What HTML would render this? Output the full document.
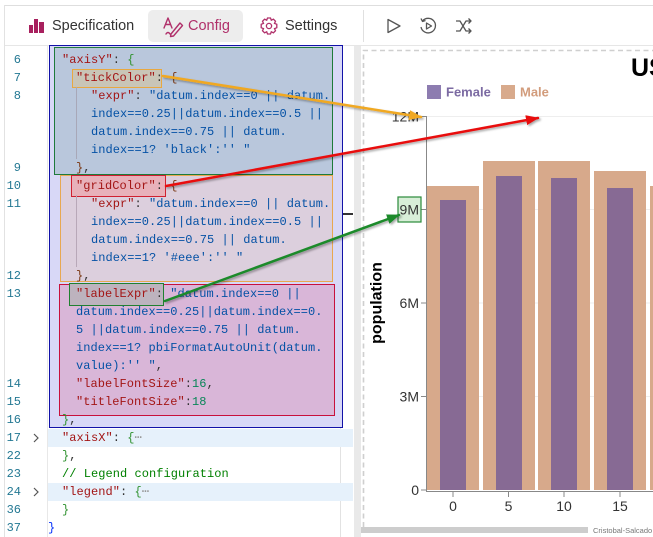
<!DOCTYPE html>
<html><head><meta charset="utf-8">
<style>
*{margin:0;padding:0;box-sizing:border-box}
html,body{width:653px;height:537px;overflow:hidden;background:#fff}
body{position:relative;font-family:"Liberation Sans",sans-serif}
.a{position:absolute}
.code{position:absolute;font-family:"Liberation Mono",monospace;font-size:12px;line-height:18px;height:18px;white-space:pre;letter-spacing:0.05px;color:#333}
.ln{position:absolute;left:0;width:21px;text-align:right;font-family:"Liberation Mono",monospace;font-size:12px;line-height:18px;height:18px;color:#237893}
.k{color:#a31515}.s{color:#0451a5}.b1{color:#0431fa}.b2{color:#319331}.b3{color:#7b3814}.n{color:#098658}.c{color:#008000}.e{color:#999}
.tab{position:absolute;top:17px;font-size:14.5px;line-height:18px;color:#333;white-space:nowrap}
</style></head><body>

<!-- frame lines -->
<div class="a" style="left:4px;top:5px;width:649px;height:1px;background:#dedede"></div>
<div class="a" style="left:4px;top:5px;width:1px;height:532px;background:#e2e2e2"></div>
<div class="a" style="left:5px;top:45px;width:648px;height:1px;background:#e6e6e6"></div>

<!-- toolbar -->
<div class="a" style="left:148px;top:10px;width:95px;height:32px;background:#ededed;border-radius:5px"></div>
<div class="tab" style="left:52px">Specification</div>
<div class="tab" style="left:188px;color:#b0306a">Config</div>
<div class="tab" style="left:285px">Settings</div>
<div class="a" style="left:363px;top:10px;width:1px;height:32px;background:#e0e0e0"></div>

<!-- editor chrome -->
<div class="a" style="left:47px;top:46px;width:1px;height:491px;background:#e8e8e8"></div>
<div class="a" style="left:340px;top:46px;width:1px;height:491px;background:#e2e2e2"></div>
<div class="a" style="left:354px;top:46px;width:7px;height:491px;background:#e9e9e9"></div>
<div class="a" style="left:342px;top:213px;width:11px;height:2px;background:#333"></div>

<!-- folded-line highlights -->
<div class="a" style="left:48px;top:429px;width:305px;height:18px;background:#e6f1fb"></div>
<div class="a" style="left:48px;top:483px;width:305px;height:18px;background:#e6f1fb"></div>

<!-- overlay boxes -->
<div class="a" style="left:49px;top:45px;width:294px;height:383px;background:#d8d8f7;border:1px solid #1212a8"></div>
<div class="a" style="left:54px;top:47px;width:279px;height:128px;background:#b9c7dc;border:1px solid #1f7a3c"></div>
<div class="a" style="left:60px;top:175px;width:273px;height:107px;background:#dccfdd;border:1px solid #e8a850"></div>
<div class="a" style="left:59px;top:284px;width:276px;height:132px;background:#d9b6d8;border:1px solid #c8103c"></div>
<div class="a" style="left:72px;top:69px;width:90px;height:19px;background:#c9c5b7;border:1.5px solid #e8a840"></div>
<div class="a" style="left:71px;top:175px;width:95px;height:22px;background:#e8b1ba;border:1.5px solid #d02030"></div>
<div class="a" style="left:69px;top:283px;width:95px;height:23px;background:#bdb3be;border:1.5px solid #208030"></div>

<!-- indent guides -->
<div class="a" style="left:76px;top:87px;width:1px;height:72px;background:#a8a8b8"></div>
<div class="a" style="left:76px;top:195px;width:1px;height:72px;background:#b8a8b8"></div>

<!-- line numbers -->
<div class="ln" style="top:51px">6</div>
<div class="ln" style="top:69px">7</div>
<div class="ln" style="top:87px">8</div>
<div class="ln" style="top:159px">9</div>
<div class="ln" style="top:177px">10</div>
<div class="ln" style="top:195px">11</div>
<div class="ln" style="top:267px">12</div>
<div class="ln" style="top:285px">13</div>
<div class="ln" style="top:375px">14</div>
<div class="ln" style="top:393px">15</div>
<div class="ln" style="top:411px">16</div>
<div class="ln" style="top:429px">17</div>
<div class="ln" style="top:447px">22</div>
<div class="ln" style="top:465px">23</div>
<div class="ln" style="top:483px">24</div>
<div class="ln" style="top:501px">36</div>
<div class="ln" style="top:519px">37</div>

<!-- code -->
<div class="code" style="left:62px;top:51px"><span class="k">"axisY"</span>: <span class="b2">{</span></div>
<div class="code" style="left:76px;top:69px"><span class="k">"tickColor"</span>: <span class="b3">{</span></div>
<div class="code" style="left:91px;top:87px"><span class="k">"expr"</span>: <span class="s">"datum.index==0 || datum.</span></div>
<div class="code" style="left:91px;top:105px"><span class="s">index==0.25||datum.index==0.5 ||</span></div>
<div class="code" style="left:91px;top:123px"><span class="s">datum.index==0.75 || datum.</span></div>
<div class="code" style="left:91px;top:141px"><span class="s">index==1? 'black':'' "</span></div>
<div class="code" style="left:76px;top:159px"><span class="b3">}</span>,</div>
<div class="code" style="left:76px;top:177px"><span class="k">"gridColor"</span>: <span class="b3">{</span></div>
<div class="code" style="left:91px;top:195px"><span class="k">"expr"</span>: <span class="s">"datum.index==0 || datum.</span></div>
<div class="code" style="left:91px;top:213px"><span class="s">index==0.25||datum.index==0.5 ||</span></div>
<div class="code" style="left:91px;top:231px"><span class="s">datum.index==0.75 || datum.</span></div>
<div class="code" style="left:91px;top:249px"><span class="s">index==1? '#eee':'' "</span></div>
<div class="code" style="left:76px;top:267px"><span class="b3">}</span>,</div>
<div class="code" style="left:76px;top:285px"><span class="k">"labelExpr"</span>: <span class="s">"datum.index==0 ||</span></div>
<div class="code" style="left:76px;top:303px"><span class="s">datum.index==0.25||datum.index==0.</span></div>
<div class="code" style="left:76px;top:321px"><span class="s">5 ||datum.index==0.75 || datum.</span></div>
<div class="code" style="left:76px;top:339px"><span class="s">index==1? pbiFormatAutoUnit(datum.</span></div>
<div class="code" style="left:76px;top:357px"><span class="s">value):'' "</span>,</div>
<div class="code" style="left:76px;top:375px"><span class="k">"labelFontSize"</span>:<span class="n">16</span>,</div>
<div class="code" style="left:76px;top:393px"><span class="k">"titleFontSize"</span>:<span class="n">18</span></div>
<div class="code" style="left:62px;top:411px"><span class="b2">}</span>,</div>
<div class="code" style="left:62px;top:429px"><span class="k">"axisX"</span>: <span class="b2">{</span><span class="e">⋯</span></div>
<div class="code" style="left:62px;top:447px"><span class="b2">}</span>,</div>
<div class="code" style="left:62px;top:465px"><span class="c">// Legend configuration</span></div>
<div class="code" style="left:62px;top:483px"><span class="k">"legend"</span>: <span class="b2">{</span><span class="e">⋯</span></div>
<div class="code" style="left:62px;top:501px"><span class="b2">}</span></div>
<div class="code" style="left:48px;top:519px"><span class="b1">}</span></div>

<svg class="a" style="left:0;top:0" width="653" height="537" viewBox="0 0 653 537" xmlns="http://www.w3.org/2000/svg">
  <defs>
    <filter id="sh" x="-20%" y="-50%" width="140%" height="200%">
      <feDropShadow dx="1.5" dy="1.5" stdDeviation="1" flood-color="#000" flood-opacity="0.35"/>
    </filter>
    <marker id="mo" markerWidth="13" markerHeight="10" refX="12" refY="5" orient="auto" markerUnits="userSpaceOnUse"><path d="M0,0 L13,5 L0,10 z" fill="#f0a820"/></marker>
    <marker id="mr" markerWidth="13" markerHeight="10" refX="12" refY="5" orient="auto" markerUnits="userSpaceOnUse"><path d="M0,0 L13,5 L0,10 z" fill="#e81010"/></marker>
    <marker id="mg" markerWidth="13" markerHeight="10" refX="12" refY="5" orient="auto" markerUnits="userSpaceOnUse"><path d="M0,0 L13,5 L0,10 z" fill="#1a8a2a"/></marker>
  </defs>

  <!-- toolbar icons -->
  <rect x="29" y="25" width="4" height="8" fill="#a8205e"/>
  <rect x="34" y="19" width="4" height="14" fill="#a8205e"/>
  <rect x="39" y="22" width="5" height="11" fill="#a8205e"/>
  <g fill="none" stroke="#b0306a" stroke-width="1.4" stroke-linecap="round" stroke-linejoin="round">
    <path d="M164,28 L168,18 L172,28 M165.5,24.5 L170.5,24.5"/>
    <path d="M171,34 L180,23 L182.5,25.5 L173.5,36 L170.5,36.5 Z"/>
    <path d="M166,34 Q168,31 170,34"/>
  </g>
  <g fill="none" stroke="#b0306a" stroke-width="1.3">
    <circle cx="269" cy="26" r="2.6"/>
    <path d="M267.5,18 L270.5,18 L271.3,20.2 L273.4,19.2 L275.5,21.3 L274.5,23.4 L276.8,24.3 L276.8,27.7 L274.5,28.6 L275.5,30.7 L273.4,32.8 L271.3,31.8 L270.5,34 L267.5,34 L266.7,31.8 L264.6,32.8 L262.5,30.7 L263.5,28.6 L261.2,27.7 L261.2,24.3 L263.5,23.4 L262.5,21.3 L264.6,19.2 L266.7,20.2 Z"/>
  </g>
  <g fill="none" stroke="#555" stroke-width="1.3" stroke-linejoin="round">
    <path d="M388,19.5 L400,26 L388,32.5 Z"/>
    <path d="M422.5,21 A7.3,7.3 0 1 1 421,27"/>
    <path d="M421,18.5 L422.5,21.5 L425.5,20.5"/>
    <path d="M426.5,23 L431.5,26 L426.5,29 Z"/>
    <path d="M456,21 L460,21 L466,31 L471,31 M456,31 L460,31 L466,21 L471,21 M468.5,18.5 L471,21 L468.5,23.5 M468.5,28.5 L471,31 L468.5,33.5"/>
  </g>

  <!-- chevrons for folded lines -->
  <g fill="none" stroke="#555" stroke-width="1.2">
    <path d="M34,434 L38,438 L34,442"/>
    <path d="M34,488 L38,492 L34,496"/>
  </g>

  <!-- chart panel -->
  <path d="M363.5,527 L363.5,50.5 L653,50.5" fill="none" stroke="#cfcfcf" stroke-width="1.6" stroke-dasharray="5,3.5"/>
  <text x="631" y="76" font-family="Liberation Sans, sans-serif" font-size="25" font-weight="bold" fill="#000">US</text>

  <!-- legend -->
  <rect x="427" y="85" width="14" height="14" fill="#8d7cb0"/>
  <text x="446" y="96.5" font-family="Liberation Sans, sans-serif" font-size="13" font-weight="bold" fill="#7b6aa2">Female</text>
  <rect x="501" y="85" width="14" height="14" fill="#d8aa8c"/>
  <text x="520" y="96.5" font-family="Liberation Sans, sans-serif" font-size="13" font-weight="bold" fill="#d29c7c">Male</text>

  <!-- gridlines -->
  <g stroke="#eeeeee" stroke-width="1">
    <line x1="427" y1="116.5" x2="653" y2="116.5"/>
    <line x1="427" y1="209.5" x2="653" y2="209.5"/>
    <line x1="427" y1="303" x2="653" y2="303"/>
    <line x1="427" y1="396.5" x2="653" y2="396.5"/>
  </g>

  <!-- bars -->
  <g fill="#d7a98b">
    <rect x="427" y="186" width="52" height="304"/>
    <rect x="483" y="161" width="52" height="329"/>
    <rect x="538" y="161" width="52" height="329"/>
    <rect x="594" y="171" width="52" height="319"/>
    <rect x="650" y="186" width="10" height="304"/>
  </g>
  <g fill="#876a94">
    <rect x="440" y="200" width="26" height="290"/>
    <rect x="496" y="176" width="26" height="314"/>
    <rect x="551" y="178" width="26" height="312"/>
    <rect x="607" y="188" width="26" height="302"/>
  </g>

  <!-- axes -->
  <g stroke="#888" stroke-width="1">
    <line x1="426.5" y1="116" x2="426.5" y2="491"/>
    <line x1="421" y1="116.5" x2="426.5" y2="116.5"/>
    <line x1="421" y1="209.5" x2="426.5" y2="209.5"/>
    <line x1="421" y1="303" x2="426.5" y2="303"/>
    <line x1="421" y1="396.5" x2="426.5" y2="396.5"/>
    <line x1="421" y1="490" x2="426.5" y2="490"/>
    <line x1="426" y1="491.5" x2="653" y2="491.5"/>
    <line x1="453" y1="492" x2="453" y2="497"/>
    <line x1="508.5" y1="492" x2="508.5" y2="497"/>
    <line x1="564" y1="492" x2="564" y2="497"/>
    <line x1="620" y1="492" x2="620" y2="497"/>
  </g>

  <!-- 9M highlight box -->
  <rect x="398" y="197" width="23" height="25" fill="#d8eed8" stroke="#2a8a3a" stroke-width="1.2"/>

  <g font-family="Liberation Sans, sans-serif" font-size="14" fill="#333" text-anchor="end">
    <text x="419" y="121.5">12M</text>
    <text x="419" y="214.5">9M</text>
    <text x="419" y="308">6M</text>
    <text x="419" y="401.5">3M</text>
    <text x="419" y="495">0</text>
  </g>
  <g font-family="Liberation Sans, sans-serif" font-size="14" fill="#333" text-anchor="middle">
    <text x="453" y="511">0</text>
    <text x="508.5" y="511">5</text>
    <text x="564" y="511">10</text>
    <text x="620" y="511">15</text>
  </g>
  <text transform="translate(381.5,303) rotate(-90)" font-family="Liberation Sans, sans-serif" font-size="16" font-weight="bold" fill="#000" text-anchor="middle">population</text>

  <!-- bottom scrollbar & credit -->
  <rect x="361" y="527" width="227" height="6" fill="#cdcdcd"/>
  <text x="593" y="533" font-family="Liberation Sans, sans-serif" font-size="7.5" fill="#777">Cristobal-Salcado</text>

  <!-- arrows -->
  <g filter="url(#sh)" stroke-linecap="round">
    <line x1="163" y1="76" x2="421" y2="117" stroke="#f0a820" stroke-width="2.5" marker-end="url(#mo)"/>
    <line x1="166" y1="186" x2="538" y2="118" stroke="#e81010" stroke-width="2.5" marker-end="url(#mr)"/>
    <line x1="165" y1="301" x2="399" y2="215" stroke="#1a8a2a" stroke-width="2.5" marker-end="url(#mg)"/>
  </g>
</svg>
</body></html>
